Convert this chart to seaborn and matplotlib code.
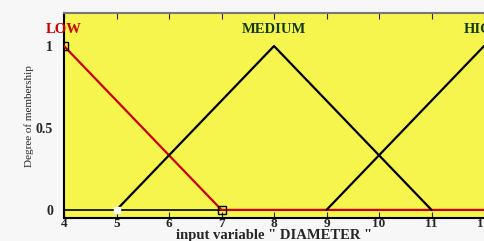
import pandas as pd
import matplotlib.pyplot as plt
import seaborn as sns

# -----------------------------
# Membership functions (triangular) for input "DIAMETER"
# -----------------------------
mf_names = ['LOW', 'MEDIUM', 'HIGH']
low_x = [4, 7, 12]
low_y = [1, 0, 0]
medium_x = [5, 8, 11]
medium_y = [0, 1, 0]
high_x = [9, 12]
high_y = [0, 1]
x_ticks = [4, 5, 6, 7, 8, 9, 10, 11, 12]
y_ticks = [0, 0.5, 1]
y_tick_labels = ['0', '0.5', '1']

df = pd.concat([
    pd.DataFrame({'x': low_x, 'y': low_y, 'mf': 'LOW'}),
    pd.DataFrame({'x': medium_x, 'y': medium_y, 'mf': 'MEDIUM'}),
    pd.DataFrame({'x': high_x, 'y': high_y, 'mf': 'HIGH'}),
])

# -----------------------------
# Plot
# -----------------------------
sns.set_style('white')
plt.rcParams['font.family'] = ['Liberation Serif', 'DejaVu Serif']

fig = plt.figure(figsize=(4.85, 2.41), dpi=100)
fig.patch.set_facecolor('#f7f7f7')
ax = fig.add_axes([0.132, 0.095, 0.866, 0.85])
ax.set_facecolor('#f6f54e')

# baseline at zero
ax.axhline(0, color='black', lw=1.2, zorder=1)

palette = {'LOW': '#cc0000', 'MEDIUM': 'black', 'HIGH': 'black'}
sns.lineplot(data=df, x='x', y='y', hue='mf', palette=palette, sort=False,
             estimator=None, lw=1.6, legend=False, ax=ax, zorder=3)

# small square markers at corner points
ax.plot([4, 7], [1, 0], 's', ms=6, mfc='none', mec='black', mew=1, zorder=4)
ax.plot([5], [0], 's', ms=5, mfc='white', mec='white', zorder=4)

label_y = 1.1
ax.text(4, label_y, 'LOW', color='#cc0000', fontsize=10.5, fontweight='bold',
        ha='center', va='center', clip_on=False)
ax.text(8, label_y, 'MEDIUM', color='#123a12', fontsize=10.5, fontweight='bold',
        ha='center', va='center')
ax.text(12, label_y, 'HIGH', color='#123a12', fontsize=10.5, fontweight='bold',
        ha='center', va='center', clip_on=False)

ax.set_xlim(4, 12)
ax.set_ylim(-0.05, 1.2)
ax.set_xticks(x_ticks)
ax.set_yticks(y_ticks)
ax.set_yticklabels(y_tick_labels)
ax.tick_params(axis='x', direction='in', top=True, bottom=True, length=4,
               labelsize=9.5, pad=0)
ax.tick_params(axis='y', direction='in', left=False, length=0, labelsize=10, pad=8)
for lab in ax.get_xticklabels() + ax.get_yticklabels():
    lab.set_fontweight('bold')

for side in ['left', 'bottom']:
    ax.spines[side].set_color('black')
    ax.spines[side].set_linewidth(1.5)
ax.spines['top'].set_color('#777777')
ax.spines['top'].set_linewidth(1.5)
ax.spines['right'].set_visible(False)

ax.set_xlabel('input variable " DIAMETER "', fontsize=10.5, fontweight='bold')
ax.xaxis.set_label_coords(0.5, -0.052)
ax.set_ylabel('Degree of membership', fontsize=8, labelpad=1)

plt.savefig('out.png', dpi=100)
